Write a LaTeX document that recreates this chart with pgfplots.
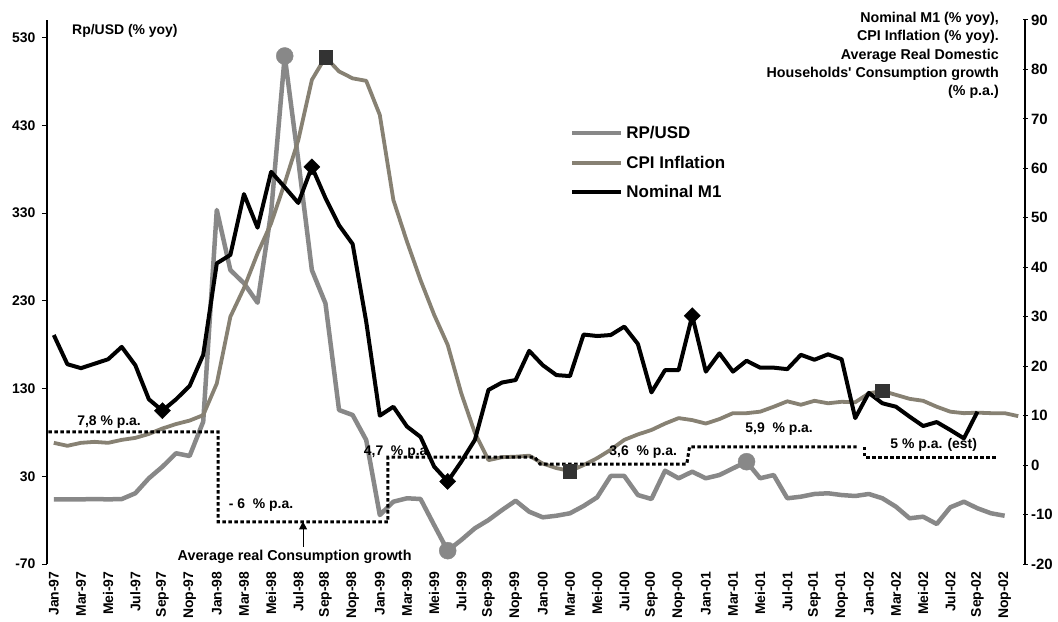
\documentclass[border=0pt]{standalone}
\usepackage{fontspec}
\setmainfont{Liberation Sans}
\usepackage{pgfplots}
\usepackage{pgfplotstable}
\pgfplotsset{compat=1.18}
\usetikzlibrary{arrows.meta}

\definecolor{rpgray}{RGB}{136,136,136}
\definecolor{cpigray}{RGB}{135,129,115}
\definecolor{sqgray}{RGB}{51,51,51}

% Rp/USD, % yoy (left axis), month index 0 = Jan-97
\pgfplotstableread{
i v
0 3.7
1 3.7
2 3.7
3 4
4 3.7
5 4
6 10.6
7 27.7
8 40.9
9 56.2
10 53.1
11 92.2
12 333.5
13 265
14 250
15 227.8
16 331
17 509
18 390
19 265
20 227
21 105.5
22 99.8
23 71.3
24 -14.2
25 1
26 4.9
27 4.1
28 -25.6
29 -54.8
30 -42.6
31 -29.3
32 -19.9
33 -8.5
34 2.1
35 -10.4
36 -16.8
37 -15
38 -12.2
39 -3.9
40 6
41 30.3
42 30.3
43 8.6
44 4.1
45 36.3
46 27.7
47 35.2
48 27.7
49 31.4
50 39
51 46.6
52 27.7
53 31.4
54 4.9
55 6.7
56 9.8
57 10.6
58 8.6
59 7.5
60 9.8
61 4.9
62 -4.7
63 -17.9
64 -16.1
65 -24.4
66 -5.4
67 1
68 -6.5
69 -12.2
70 -15
}\rpusd

% CPI inflation, % yoy (right axis)
\pgfplotstableread{
i v
0 4.5
1 3.9
2 4.5
3 4.7
4 4.5
5 5.1
6 5.5
7 6.3
8 7.4
9 8.3
10 9.0
11 10.1
12 16.5
13 30.0
14 35.8
15 42.8
16 48.9
17 57
18 65.7
19 77.9
20 82.5
21 79.6
22 78.2
23 77.7
24 70.8
25 53.6
26 45.2
27 37.4
28 30.4
29 24.3
30 14.5
31 6.5
32 1.0
33 1.6
34 1.7
35 1.9
36 0.3
37 -0.6
38 -1.2
39 0.0
40 1.4
41 3.1
42 5.1
43 6.2
44 7.1
45 8.4
46 9.5
47 9.1
48 8.4
49 9.3
50 10.5
51 10.5
52 10.8
53 11.8
54 12.9
55 12.2
56 13
57 12.5
58 12.8
59 12.7
60 14.5
61 15.0
62 14.2
63 13.4
64 13
65 11.8
66 10.8
67 10.5
68 10.6
69 10.5
70 10.5
71 9.9
}\cpi

% Nominal M1, % yoy (right axis)
\pgfplotstableread{
i v
0 26.3
1 20.4
2 19.6
3 20.5
4 21.4
5 23.9
6 20.2
7 13.3
8 11.0
9 13.3
10 16.0
11 22.3
12 40.8
13 42.5
14 54.8
15 48
16 59.3
17 56.2
18 53
19 60.3
20 54
21 48.5
22 44.7
23 29
24 10
25 11.8
26 7.8
27 5.7
28 -0.3
29 -3.3
30 0.7
31 5.1
32 15.2
33 16.7
34 17.2
35 23.1
36 20.2
37 18.2
38 18.0
39 26.4
40 26.1
41 26.3
42 28.0
43 24.5
44 14.7
45 19.2
46 19.2
47 30.2
48 18.9
49 22.6
50 18.9
51 21.1
52 19.7
53 19.7
54 19.4
55 22.3
56 21.3
57 22.4
58 21.4
59 9.5
60 14.6
61 12.5
62 11.8
63 9.8
64 7.9
65 8.7
66 7.1
67 5.4
68 10.8
}\mone

\newcommand{\lbl}{\fontsize{14}{16}\selectfont\bfseries}

\begin{document}
\begin{tikzpicture}
\tikzset{
  rpline/.style={color=rpgray, line width=4.5bp, line join=round},
  cpiline/.style={color=cpigray, line width=3.8bp, line join=round},
  m1line/.style={color=black, line width=4bp, line join=round},
  cons/.style={black, line width=3bp, dash pattern=on 3.5bp off 2.5bp},
}
\pgfplotsset{
  base/.style={
    scale only axis, width=978bp, height=544bp,
    xmin=-0.5, xmax=71.5, clip=false,
    tick style={black, line width=1bp},
    major tick length=5bp,
    ticklabel style={font=\lbl},
  }
}
\begin{axis}[base, name=ax,
  axis y line*=left, axis x line*=bottom,
  x axis line style={draw=none},
  y axis line style={line width=1.2bp},
  ymin=-70, ymax=550,
  ytick={-70,30,130,230,330,430,530},
  yticklabels={-70,30,130,230,330,430,530},
  yticklabel style={xshift=-3bp},
  tick align=outside,
  xtick={0,2,...,70},
  xticklabels={Jan-97,Mar-97,Mei-97,Jul-97,Sep-97,Nop-97,
    Jan-98,Mar-98,Mei-98,Jul-98,Sep-98,Nop-98,
    Jan-99,Mar-99,Mei-99,Jul-99,Sep-99,Nop-99,
    Jan-00,Mar-00,Mei-00,Jul-00,Sep-00,Nop-00,
    Jan-01,Mar-01,Mei-01,Jul-01,Sep-01,Nop-01,
    Jan-02,Mar-02,Mei-02,Jul-02,Sep-02,Nop-02},
  x tick style={draw=none},
  xticklabel style={yshift=1bp, rotate=90, anchor=east},
]
\addplot[rpline] table[x=i,y=v]{\rpusd};
\addplot[only marks, mark=*, mark size=8.5bp, color=rpgray] coordinates {(17,509) (29,-54.8) (51,46.6)};
\node[anchor=west, inner sep=0pt, font=\fontsize{14}{16}\selectfont\bfseries]
  at (axis description cs:0.0256,0.98) {Rp/USD (\% yoy)};
\end{axis}

\begin{axis}[base,
  axis y line*=right, axis x line=none,
  y axis line style={line width=1.2bp},
  ymin=-20, ymax=90,
  ytick={-20,-10,0,10,20,30,40,50,60,70,80,90},
  yticklabels={-20,-10,0,10,20,30,40,50,60,70,80,90},
  yticklabel style={font=\fontsize{15}{17}\selectfont\bfseries},
  tick align=center,
  legend style={draw=none, fill=none, at={(axis description cs:0.5345,0.809)},
    anchor=north west, inner sep=0pt, row sep=12bp,
    font=\fontsize{17}{20}\selectfont\bfseries,
    /tikz/every odd column/.append style={column sep=1bp}},
  legend cell align=left,
  legend image code/.code={\draw[#1] (0bp,0bp) -- (49bp,0bp);},
]
\addlegendimage{rpline}
\addlegendentry{RP/USD}
\addplot[cpiline] table[x=i,y=v]{\cpi};
\addlegendentry{CPI Inflation}
\addplot[cons, forget plot] coordinates {(-0.4,6.7) (12.1,6.7) (12.1,-11.5) (24.6,-11.5) (24.6,1.6) (35.4,1.6) (35.8,0.2) (46.6,0.2) (46.8,3.7) (59.1,3.7)};
\addplot[cons, forget plot] coordinates {(59.7,3.7) (59.7,1.6) (69.5,1.6)};
\addplot[m1line] table[x=i,y=v]{\mone};
\addlegendentry{Nominal M1}
\addplot[only marks, forget plot, mark=square*, mark size=6.7bp, color=sqgray] coordinates {(20,82.5) (38,-1.2) (61,15.0)};
\addplot[only marks, forget plot, mark=square*, mark size=5.7bp, mark options={rotate=45}, color=black] coordinates {(8,11.0) (19,60.3) (29,-3.3) (47,30.2)};

\node[font=\lbl] at (axis cs:4.07,8.78) {7,8 \% p.a.};
\node[font=\lbl] at (axis cs:15.26,-8.07) {- 6~~\% p.a.};
\node[font=\lbl] at (axis cs:25.31,2.71) {4,7~~\% p.a.};
\node[font=\lbl] at (axis cs:43.39,2.71) {3,6~~\% p.a.};
\node[font=\lbl] at (axis cs:53.4,7.24) {5,9~~\% p.a.};
\node[font=\lbl] at (axis cs:64.78,4.06) {5 \% p.a. (est)};
\node[font=\fontsize{14.4}{16}\selectfont\bfseries] at (axis cs:17.73,-18.5) {Average real Consumption growth};
\draw[-{Triangle[width=8bp,length=8bp]}, line width=1bp] (axis cs:18.35,-16.5) -- (axis cs:18.35,-11.4);
\node[anchor=north east, inner sep=0pt, align=right, font=\fontsize{14.3}{18.4}\selectfont\bfseries]
  at (axis description cs:0.9734,1.0147)
  {Nominal M1 (\% yoy),\\ CPI Inflation (\% yoy).\\ Average Real Domestic\\ Households\textquotesingle\ Consumption growth\\ (\% p.a.)};
\end{axis}
\pgfresetboundingbox
\path ([shift={(-47bp,-57bp)}]ax.south west) rectangle ([shift={(33bp,20bp)}]ax.north east);
\end{tikzpicture}
\end{document}
